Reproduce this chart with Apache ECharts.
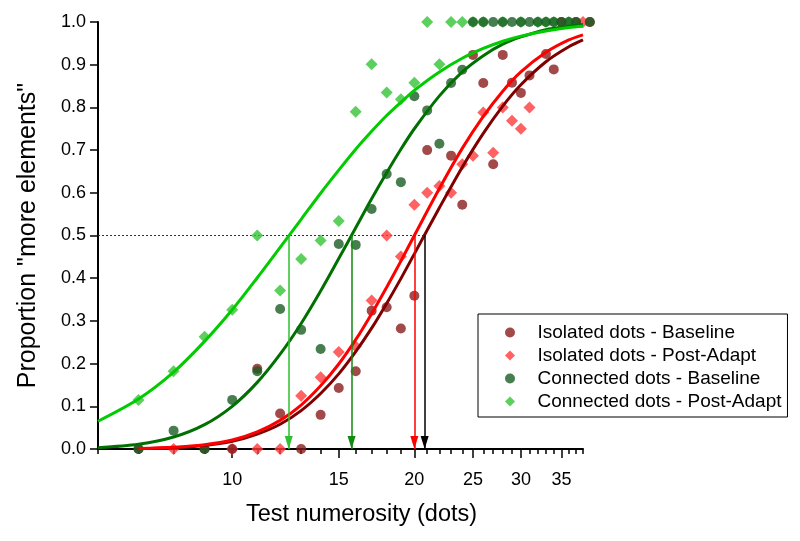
<!DOCTYPE html>
<html><head><meta charset="utf-8">
<script src="https://cdn.jsdelivr.net/npm/echarts@6/dist/echarts.min.js"></script>
<style>html,body{margin:0;padding:0;background:#fff}#c{width:800px;height:541px}</style>
</head><body><div id="c"></div>
<script>
// ---------- data ----------
const seriesNames = ['Isolated dots - Baseline', 'Isolated dots - Post-Adapt', 'Connected dots - Baseline', 'Connected dots - Post-Adapt'];
const xRange = [6, 38];
const xTickLabels = [10, 15, 20, 25, 30, 35];
const xMinorTicks = [6, 7, 8, 9, 11, 12, 13, 14, 16, 17, 18, 19, 21, 22, 23, 24, 26, 27, 28, 29, 31, 32, 33, 34, 36, 37, 38];

// Isolated dots - Baseline
const ibX = [7, 9, 10, 11, 12, 13, 14, 15, 16, 17, 18, 19, 20, 21, 23, 24, 25, 26, 27, 28, 29, 30, 31, 33, 34, 35, 37, 39];
const ibY = [0, 0, 0, 0.188, 0.083, 0, 0.08, 0.143, 0.182, 0.324, 0.332, 0.282, 0.359, 0.70, 0.687, 0.572, 0.923, 0.857, 0.667, 0.923, 0.858, 0.834, 0.875, 0.925, 0.889, 1, 1, 1];
// Isolated dots - Post-Adapt
const ipaX = [8, 10, 11, 12, 13, 14, 15, 16, 17, 18, 19, 20, 21, 22, 23, 24, 25, 26, 27, 28, 29, 30, 31, 38];
const ipaY = [0, 0, 0, 0, 0.125, 0.168, 0.227, 0.24, 0.348, 0.5, 0.451, 0.572, 0.60, 0.616, 0.60, 0.667, 0.687, 0.788, 0.694, 0.80, 0.769, 0.75, 0.80, 1];
// Connected dots - Baseline
const cbX = [7, 8, 9, 10, 11, 12, 13, 14, 15, 16, 17, 18, 19, 20, 21, 22, 23, 24, 25, 26, 27, 28, 29, 30, 31, 32, 33, 34, 35, 36, 37, 39];
const cbY = [0, 0.043, 0, 0.115, 0.182, 0.328, 0.279, 0.234, 0.48, 0.478, 0.562, 0.644, 0.625, 0.826, 0.793, 0.715, 0.857, 0.888, 1, 1, 1, 1, 1, 1, 1, 1, 1, 1, 1, 1, 1, 1];
// Connected dots - Post-Adapt
const cpaX = [7, 8, 9, 10, 11, 12, 13, 14, 15, 16, 17, 18, 19, 20, 21, 22, 23, 24, 25, 26, 28, 30, 32, 33, 34, 36];
const cpaY = [0.115, 0.182, 0.263, 0.326, 0.5, 0.371, 0.445, 0.488, 0.534, 0.79, 0.901, 0.835, 0.819, 0.858, 1, 0.901, 1, 1, 1, 1, 1, 1, 1, 1, 1, 1];

// fitted psychometric curves
const curveX = [6, 7, 8, 9, 10, 11, 12, 13, 14, 15, 16, 17, 18, 19, 20, 22, 24, 26, 28, 30, 33, 36, 38];
const fitIB  = [null, 0.001, 0.003, 0.008, 0.018, 0.035, 0.058, 0.090, 0.130, 0.176, 0.228, 0.283, 0.341, 0.399, 0.457, 0.565, 0.660, 0.739, 0.803, 0.853, 0.907, 0.942, 0.958];
const fitIPA = [null, 0.001, 0.004, 0.010, 0.021, 0.040, 0.067, 0.103, 0.148, 0.199, 0.256, 0.317, 0.379, 0.440, 0.500, 0.610, 0.704, 0.779, 0.838, 0.883, 0.929, 0.958, 0.970];
const fitCB  = [0.003, 0.011, 0.028, 0.057, 0.100, 0.156, 0.222, 0.294, 0.370, 0.446, 0.518, 0.586, 0.647, 0.702, 0.750, 0.827, 0.883, 0.921, 0.948, 0.965, 0.982, 0.990, 0.994];
const fitCPA = [0.065, 0.117, 0.180, 0.252, 0.326, 0.401, 0.472, 0.538, 0.599, 0.653, 0.702, 0.744, 0.781, 0.812, 0.840, 0.883, 0.915, 0.938, 0.955, 0.967, 0.979, 0.987, 0.990];

// points of subjective equality (50% level), one per condition
const pse = [20.8, 20.0, 15.75, 12.4];
const threshold = 0.5;

// ---------- styles ----------
const FONT = '"Liberation Sans", Arial, sans-serif';
const pointColors = ['#8b1c1c', '#ff3b3b', '#1a5c24', '#33c433'];
const curveColors = ['#800000', '#ff0000', '#007000', '#00cc00'];
const arrowColors = ['#000000', '#ff0000', '#118a11', '#2fbf2f'];
const symbols = ['circle', 'diamond', 'circle', 'diamond'];
const DIAMOND_PATH = 'path://M0,-1L1,0L0,1L-1,0Z';

const lg = v => Math.log10(v);
const pts = (xs, ys) => xs.map((x, i) => [lg(x), ys[i]]).filter(p => p[1] !== null);

const pointSets = [[ibX, ibY], [ipaX, ipaY], [cbX, cbY], [cpaX, cpaY]];
const fits = [fitIB, fitIPA, fitCB, fitCPA];

const series = [];
pointSets.forEach(([xs, ys], i) => {
  series.push({
    name: seriesNames[i], type: 'scatter', symbol: symbols[i],
    symbolSize: symbols[i] === 'circle' ? 10 : 12,
    clip: false, z: symbols[i] === 'circle' ? 3 : 2,
    itemStyle: { color: pointColors[i], opacity: 0.8 },
    data: pts(xs, ys)
  });
});
fits.forEach((f, i) => {
  series.push({
    name: 'fit ' + i, type: 'line', smooth: 0.3, showSymbol: false, silent: true, z: 4,
    lineStyle: { color: curveColors[i], width: 3 },
    data: pts(curveX, f),
    markLine: {
      silent: true, symbol: ['none', 'triangle'], symbolSize: [8, 13],
      symbolOffset: [0, [0, '50%']],
      label: { show: false },
      lineStyle: { color: arrowColors[i], width: 1.5, type: 'solid' },
      data: [[{ coord: [lg(pse[i]), threshold] }, { coord: [lg(pse[i]), 0] }]]
    }
  });
});
series.push({
  name: 'criterion', type: 'line', showSymbol: false, silent: true, z: 1,
  lineStyle: { color: '#333', width: 1, type: [2, 2] },
  data: [[lg(xRange[0]), threshold], [lg(Math.max(...pse)), threshold]]
});

const chart = echarts.init(document.getElementById('c'), null, { renderer: 'canvas' });
chart.setOption({
  animation: false,
  backgroundColor: '#fff',
  grid: { left: 98, top: 22, width: 485, height: 427 },
  legend: {
    data: seriesNames.map((n, i) => ({ name: n, icon: symbols[i] === 'circle' ? 'circle' : DIAMOND_PATH })),
    orient: 'vertical', left: 478, top: 314,
    itemWidth: 45, itemHeight: 10, itemGap: 4,
    padding: [9, 6, 6, 27],
    borderColor: '#000', borderWidth: 1, backgroundColor: '#fff',
    selectedMode: false,
    textStyle: { fontSize: 19, color: '#000', fontFamily: FONT }
  },
  xAxis: [{
    type: 'value', min: lg(xRange[0]), max: lg(xRange[1]), position: 'bottom',
    name: 'Test numerosity (dots)', nameLocation: 'middle', nameGap: 54,
    nameTextStyle: { fontSize: 23.5, color: '#000', fontFamily: FONT, padding: [0, 0, 0, 42] },
    axisLine: { show: true, lineStyle: { color: '#000', width: 2 } },
    axisTick: { show: true, customValues: xTickLabels.map(lg), length: 9, lineStyle: { color: '#000', width: 1.5 } },
    axisLabel: { customValues: xTickLabels.map(lg), formatter: v => String(Math.round(Math.pow(10, v))), fontSize: 18, color: '#000', margin: 22, fontFamily: FONT },
    splitLine: { show: false }
  }, {
    type: 'value', min: lg(xRange[0]), max: lg(xRange[1]), position: 'bottom',
    axisLine: { show: false },
    axisTick: { show: true, customValues: xMinorTicks.map(lg), length: 5, lineStyle: { color: '#000', width: 1.5 } },
    axisLabel: { show: false },
    splitLine: { show: false }
  }],
  yAxis: {
    type: 'value', min: 0, max: 1, interval: 0.1,
    name: 'Proportion "more elements"', nameLocation: 'middle', nameGap: 57,
    nameTextStyle: { fontSize: 25, color: '#000', fontFamily: FONT },
    axisLine: { show: true, lineStyle: { color: '#000', width: 2 } },
    axisTick: { show: true, length: 8, lineStyle: { color: '#000', width: 1.5 } },
    axisLabel: { formatter: v => v.toFixed(1), fontSize: 18, color: '#000', margin: 12, fontFamily: FONT },
    splitLine: { show: false }
  },
  series: series
});
</script>
</body></html>
